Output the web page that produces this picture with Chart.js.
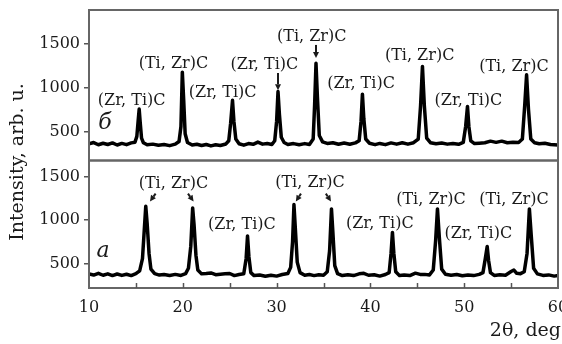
<!DOCTYPE html>
<html>
<head>
<meta charset="utf-8">
<script src="https://cdn.jsdelivr.net/npm/chart.js@4.4.0/dist/chart.umd.min.js"></script>
<style>
  html, body { margin: 0; padding: 0; background: #fff; }
  #wrap { position: relative; width: 562px; height: 344px; }
</style>
</head>
<body>
<div id="wrap"><canvas id="xrd" width="562" height="344"></canvas></div>
<script>
// pattern б (upper panel)
const twoThetaB = [10.0, 10.5, 11.0, 11.5, 12.0, 12.5, 13.0, 13.5, 14.0, 14.5, 14.9, 15.1, 15.25, 15.35, 15.45, 15.6, 15.8,
  16.2, 16.8, 17.4, 18.0, 18.6, 19.2, 19.6, 19.8, 19.95, 20.1, 20.25, 20.5, 21.0, 21.5, 22.0, 22.5, 23.0, 23.5, 24.0,
  24.6, 24.9, 25.1, 25.3, 25.45, 25.65, 26.0, 26.5, 27.0, 27.5, 28.0, 28.5, 29.0, 29.5, 29.8, 30.0, 30.15, 30.3, 30.5,
  30.8, 31.2, 31.8, 32.4, 33.0, 33.5, 33.9, 34.05, 34.2, 34.35, 34.55, 34.9, 35.4, 36.0, 36.6, 37.2, 37.8, 38.4, 38.8,
  39.0, 39.15, 39.3, 39.5, 39.9, 40.5, 41.0, 41.6, 42.2, 42.8, 43.4, 44.0, 44.6, 45.1, 45.35, 45.55, 45.75, 46.0, 46.4,
  47.0, 47.6, 48.2, 48.8, 49.4, 49.9, 50.15, 50.35, 50.5, 50.7, 51.1, 51.6, 52.2, 52.8, 53.4, 54.0, 54.6, 55.2, 55.8,
  56.2, 56.45, 56.65, 56.85, 57.1, 57.5, 58.0, 58.6, 59.2, 60.0];
const intensityB = [365, 380, 355, 372, 358, 376, 352, 370, 356, 376, 384, 450, 640, 760, 620, 430, 378,
  355, 362, 350, 358, 345, 362, 392, 560, 1180, 850, 480, 380, 352, 360, 346, 358, 342, 355, 346,
  364, 400, 600, 860, 620, 420, 366, 350, 368, 360, 385, 362, 370, 358, 400, 620, 960, 700, 440,
  380, 358, 368, 356, 368, 358, 420, 800, 1280, 900, 460, 388, 370, 378, 360, 374, 360, 376, 400,
  620, 930, 650, 420, 372, 356, 370, 356, 376, 362, 378, 362, 378, 420, 800, 1245, 800, 430, 378,
  366, 374, 362, 370, 360, 382, 560, 790, 560, 400, 368, 372, 378, 396, 382, 396, 378, 382, 380,
  420, 800, 1150, 760, 420, 378, 366, 372, 358, 352];

// pattern а (lower panel)
const twoThetaA = [10.0, 10.5, 11.0, 11.5, 12.0, 12.5, 13.0, 13.5, 14.0, 14.5, 15.0, 15.4, 15.7, 15.9, 16.05, 16.2, 16.4,
  16.6, 17.0, 17.5, 18.0, 18.6, 19.2, 19.8, 20.3, 20.6, 20.85, 21.05, 21.2, 21.4, 21.6, 22.0, 22.5, 23.0, 23.5, 24.0,
  24.5, 25.0, 25.5, 26.0, 26.5, 26.75, 26.9, 27.05, 27.25, 27.6, 28.2, 28.8, 29.4, 30.0, 30.6, 31.2, 31.5, 31.7, 31.85,
  32.0, 32.2, 32.5, 33.0, 33.5, 34.0, 34.5, 35.0, 35.4, 35.65, 35.85, 36.0, 36.2, 36.5, 37.0, 37.6, 38.2, 38.8, 39.3,
  39.8, 40.4, 41.0, 41.6, 42.0, 42.2, 42.35, 42.5, 42.7, 43.1, 43.6, 44.2, 44.8, 45.3, 45.8, 46.3, 46.7, 46.95, 47.15,
  47.35, 47.6, 48.0, 48.6, 49.2, 49.8, 50.4, 51.0, 51.6, 52.0, 52.25, 52.45, 52.6, 52.8, 53.2, 53.8, 54.4, 55.0, 55.3,
  55.6, 56.0, 56.4, 56.7, 56.95, 57.15, 57.4, 57.8, 58.4, 59.0, 59.6, 60.0];
const intensityA = [385, 372, 392, 370, 386, 366, 384, 368, 382, 366, 388, 420, 560, 900, 1160, 960, 620,
  440, 388, 372, 378, 368, 380, 368, 388, 450, 700, 1140, 950, 600, 430, 386, 390, 396, 376, 382,
  386, 390, 366, 378, 386, 560, 820, 580, 400, 366, 372, 358, 370, 360, 378, 390, 460, 750, 1180,
  900, 520, 400, 370, 378, 366, 376, 370, 410, 650, 1130, 860, 480, 388, 366, 376, 366, 386, 392,
  370, 376, 360, 378, 400, 620, 860, 620, 410, 366, 374, 366, 394, 380, 380, 374, 430, 760, 1130,
  800, 440, 382, 370, 378, 364, 374, 366, 380, 400, 560, 700, 540, 400, 368, 376, 370, 412, 430,
  392, 388, 410, 620, 1130, 820, 450, 386, 368, 374, 360, 366];

const xTickValues = [10, 20, 30, 40, 50, 60];
const xMinorTicks = [15, 20, 25, 30, 35, 40, 45, 50, 55];
const yTickValues = [500, 1000, 1500];

// phase labels, placed in data units of their panel
const phaseLabels = [
  { panel: 'yTop', text: '(Zr, Ti)C', x: 14.55, y: 852 },
  { panel: 'yTop', text: '(Ti, Zr)C', x: 19.0, y: 1273 },
  { panel: 'yTop', text: '(Zr, Ti)C', x: 24.25, y: 943 },
  { panel: 'yTop', text: '(Zr, Ti)C', x: 28.7, y: 1261 },
  { panel: 'yTop', text: '(Ti, Zr)C', x: 33.75, y: 1580 },
  { panel: 'yTop', text: '(Zr, Ti)C', x: 39.0, y: 1045 },
  { panel: 'yTop', text: '(Ti, Zr)C', x: 45.25, y: 1364 },
  { panel: 'yTop', text: '(Zr, Ti)C', x: 50.45, y: 852 },
  { panel: 'yTop', text: '(Ti, Zr)C', x: 55.3, y: 1239 },
  { panel: 'yBot', text: '(Ti, Zr)C', x: 19.0, y: 1420 },
  { panel: 'yBot', text: '(Zr, Ti)C', x: 26.3, y: 948 },
  { panel: 'yBot', text: '(Ti, Zr)C', x: 33.55, y: 1431 },
  { panel: 'yBot', text: '(Zr, Ti)C', x: 41.0, y: 960 },
  { panel: 'yBot', text: '(Ti, Zr)C', x: 46.45, y: 1236 },
  { panel: 'yBot', text: '(Zr, Ti)C', x: 51.5, y: 845 },
  { panel: 'yBot', text: '(Ti, Zr)C', x: 55.3, y: 1236 }
];
const arrows = [
  { panel: 'yTop', x1: 30.15, y1: 1170, x2: 30.15, y2: 975 },
  { panel: 'yTop', x1: 34.2, y1: 1489, x2: 34.2, y2: 1340 },
  { panel: 'yBot', x1: 17.1, y1: 1305, x2: 16.5, y2: 1215 },
  { panel: 'yBot', x1: 20.55, y1: 1305, x2: 21.15, y2: 1215 },
  { panel: 'yBot', x1: 32.6, y1: 1305, x2: 32.05, y2: 1215 },
  { panel: 'yBot', x1: 35.25, y1: 1305, x2: 35.8, y2: 1215 }
];
const panelLetters = [
  { panel: 'yTop', text: 'б', x: 11.7, y: 595 },
  { panel: 'yBot', text: 'а', x: 11.5, y: 640 }
];

const serif = '"DejaVu Serif", "Liberation Serif", serif';
const ink = '#1a1a1a';

function drawArrow(ctx, x1, y1, x2, y2) {
  const a = Math.atan2(y2 - y1, x2 - x1);
  const head = 6;
  ctx.beginPath();
  ctx.moveTo(x1, y1);
  ctx.lineTo(x2 - head * Math.cos(a), y2 - head * Math.sin(a));
  ctx.stroke();
  ctx.beginPath();
  ctx.moveTo(x2, y2);
  ctx.lineTo(x2 - head * Math.cos(a) + 3 * Math.sin(a), y2 - head * Math.sin(a) - 3 * Math.cos(a));
  ctx.lineTo(x2 - head * Math.cos(a) - 3 * Math.sin(a), y2 - head * Math.sin(a) + 3 * Math.cos(a));
  ctx.closePath();
  ctx.fill();
}

const decorations = {
  id: 'decorations',
  afterDatasetsDraw(chart) {
    const { ctx, chartArea, scales } = chart;
    const xs = scales.x;
    ctx.save();

    // panel frames
    ctx.strokeStyle = '#666';
    ctx.lineWidth = 2;
    [scales.yTop, scales.yBot].forEach(s => {
      ctx.strokeRect(chartArea.left, s.top, chartArea.right - chartArea.left, s.bottom - s.top);
    });

    // inward ticks on the 2θ axis
    ctx.strokeStyle = '#555';
    ctx.lineWidth = 1.5;
    xMinorTicks.forEach(v => {
      const px = Math.round(xs.getPixelForValue(v)) + 0.5;
      ctx.beginPath();
      ctx.moveTo(px, chartArea.bottom);
      ctx.lineTo(px, chartArea.bottom - 5);
      ctx.stroke();
    });

    // phase labels
    ctx.fillStyle = ink;
    ctx.font = '16px ' + serif;
    ctx.textAlign = 'center';
    ctx.textBaseline = 'middle';
    phaseLabels.forEach(l => {
      ctx.fillText(l.text, xs.getPixelForValue(l.x), scales[l.panel].getPixelForValue(l.y));
    });

    // arrows
    ctx.strokeStyle = ink;
    ctx.lineWidth = 2;
    arrows.forEach(a => {
      const ys = scales[a.panel];
      drawArrow(ctx, xs.getPixelForValue(a.x1), ys.getPixelForValue(a.y1),
        xs.getPixelForValue(a.x2), ys.getPixelForValue(a.y2));
    });

    // panel letters
    ctx.font = 'italic 22px ' + serif;
    panelLetters.forEach(l => {
      ctx.fillText(l.text, xs.getPixelForValue(l.x), scales[l.panel].getPixelForValue(l.y));
    });

    // axis titles
    ctx.font = '19px ' + serif;
    ctx.textAlign = 'right';
    ctx.fillText('2θ, deg', 561, 331);
    ctx.translate(18, 162);
    ctx.rotate(-Math.PI / 2);
    ctx.textAlign = 'center';
    ctx.fillText('Intensity, arb. u.', 0, 0);
    ctx.restore();
  }
};

function yAxis(min, max, weight, layoutWeight) {
  return {
    type: 'linear',
    position: 'left',
    stack: 'panels',
    stackWeight: weight,
    weight: layoutWeight,
    min: min,
    max: max,
    afterBuildTicks: s => { s.ticks = yTickValues.map(v => ({ value: v })); },
    afterFit: s => { s.width = 89; s.paddingTop = 0; s.paddingBottom = 0; },
    grid: { drawOnChartArea: false, drawTicks: true, tickLength: 5, color: '#555', lineWidth: 1.5 },
    border: { display: false },
    ticks: { color: ink, padding: 4, font: { family: serif, size: 16 }, callback: v => String(v) }
  };
}

new Chart(document.getElementById('xrd'), {
  type: 'line',
  data: {
    datasets: [
      {
        label: 'б',
        data: twoThetaB.map((x, i) => ({ x: x, y: intensityB[i] })),
        yAxisID: 'yTop',
        borderColor: '#000',
        borderWidth: 3.5,
        pointRadius: 0,
        tension: 0,
        borderJoinStyle: 'round'
      },
      {
        label: 'а',
        data: twoThetaA.map((x, i) => ({ x: x, y: intensityA[i] })),
        yAxisID: 'yBot',
        borderColor: '#000',
        borderWidth: 3.5,
        pointRadius: 0,
        tension: 0,
        borderJoinStyle: 'round'
      }
    ]
  },
  options: {
    responsive: false,
    devicePixelRatio: 1,
    animation: false,
    layout: { padding: { left: 0, right: 4, top: 10, bottom: 0 } },
    plugins: { legend: { display: false }, tooltip: { enabled: false } },
    scales: {
      x: {
        type: 'linear',
        min: 10,
        max: 60,
        afterBuildTicks: s => { s.ticks = xTickValues.map(v => ({ value: v })); },
        afterFit: s => { s.height = 56; s.paddingLeft = 0; s.paddingRight = 0; },
        grid: { display: false },
        border: { display: false },
        ticks: { color: ink, padding: 2, maxRotation: 0, font: { family: serif, size: 16 }, callback: v => String(v) }
      },
      yTop: yAxis(176, 1886, 150.5, 2),
      yBot: yAxis(224, 1684, 127.5, 1)
    }
  },
  plugins: [decorations]
});
</script>
</body>
</html>
